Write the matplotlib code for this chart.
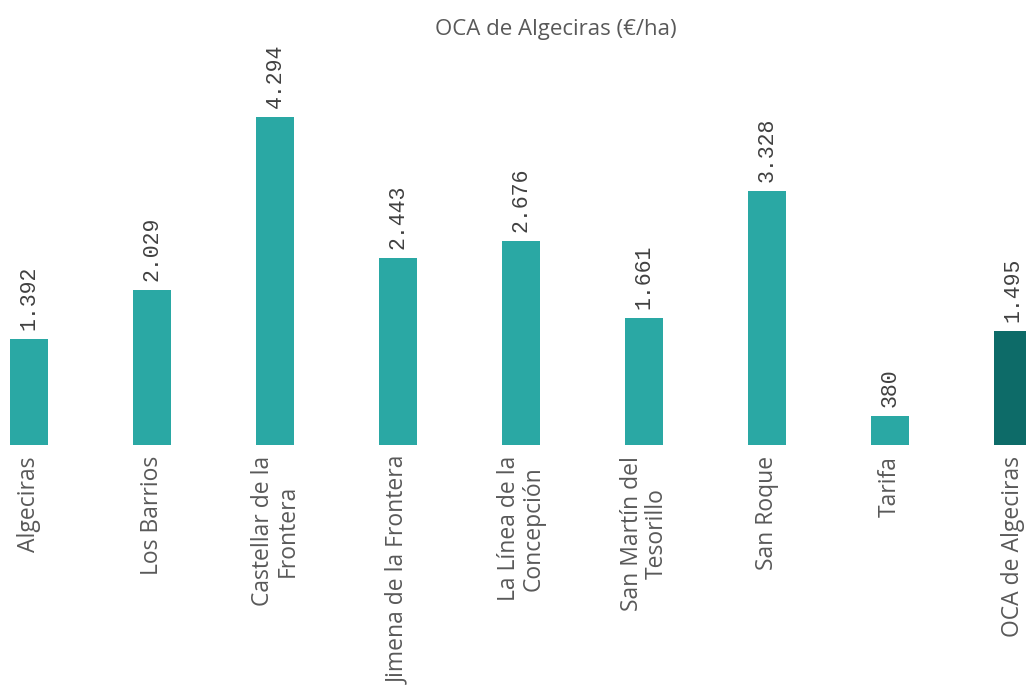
import numpy as np
import matplotlib.pyplot as plt

municipios = ['Algeciras', 'Los Barrios', 'Castellar de la\nFrontera',
              'Jimena de la Frontera', 'La Línea de la\nConcepción',
              'San Martín del\nTesorillo', 'San Roque', 'Tarifa',
              'OCA de Algeciras']
valores = [1392, 2029, 4294, 2443, 2676, 1661, 3328, 380, 1495]
etiquetas = ['1.392', '2.029', '4.294', '2.443', '2.676', '1.661', '3.328',
             '380', '1.495']

color_mun = '#2AA8A4'
color_oca = '#0D6B68'
colores = [color_mun] * (len(valores) - 1) + [color_oca]

fig = plt.figure(figsize=(10.26, 6.86), dpi=100)
ax = fig.add_axes([0, 1 - 445 / 686, 1, 415 / 686])

x = np.arange(len(valores))
bars = ax.bar(x, valores, 0.31, color=colores)

for b, txt in zip(bars, etiquetas):
    ax.annotate(txt, (b.get_x() + b.get_width() / 2, b.get_height()),
                xytext=(0, 6.5), textcoords='offset points',
                rotation=90, ha='center', va='bottom',
                fontsize=15.5, family='Liberation Mono', color='#404040')

ax.set_xlim(-0.236, 8.106)
ax.set_ylim(0, 415 / 0.0764)
ax.set_xticks(x)
ax.set_xticklabels(municipios, rotation=90, ha='center', va='top',
                   multialignment='center', fontsize=16.5,
                   family='Open Sans', color='#595959',
                   linespacing=1.05)
ax.tick_params(axis='x', length=0, pad=8)
ax.set_yticks([])
for s in ax.spines.values():
    s.set_visible(False)

fig.text(556 / 1026, 1 - 30 / 686, 'OCA de Algeciras (€/ha)', ha='center',
         va='center', fontsize=16, family='Open Sans', color='#595959')

fig.savefig('out.png', dpi=100)
